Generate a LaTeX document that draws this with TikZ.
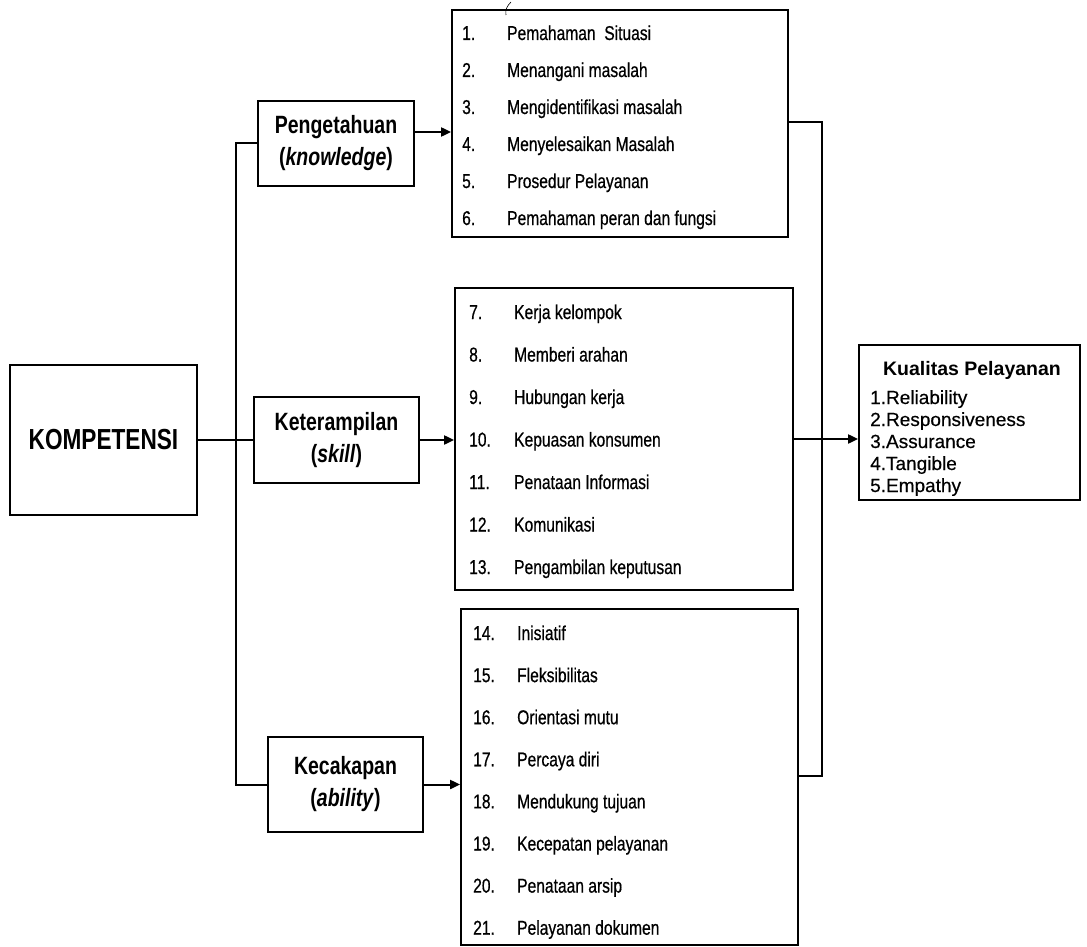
\documentclass[tikz,border=0pt]{standalone}
\usepackage{fontspec}
\setmainfont{Liberation Sans}[FakeStretch=0.78, UprightFeatures={FakeBold=0.6}]
\newfontfamily\kfont{Liberation Sans}[UprightFeatures={FakeBold=0.5}]
\usetikzlibrary{arrows.meta}
\tikzset{
  box/.style={draw, line width=1.8pt, rectangle, inner sep=0pt, align=center},
  lbl/.style={font=\bfseries\fontsize{25}{32}\selectfont},
  conn/.style={line width=2pt},
  arr/.style={line width=2pt, -{Triangle[length=10pt,width=9pt]}},
  item/.style={anchor=base west, inner sep=0pt, font=\fontsize{20}{22}\selectfont},
  kitem/.style={anchor=base west, inner sep=0pt, font=\kfont\fontsize{19}{22}\selectfont},
}
\newcommand{\boxat}[6]{% name, x1, y1, x2, y2, text
  \node[box, minimum width={#4-#2}, minimum height={#5-#3}] (#1) at ({(#2+#4)/2},{(#3+#5)/2}) {#6};}
\begin{document}
\begin{tikzpicture}[x=1pt,y=-1pt]
\useasboundingbox (0,0) rectangle (1087,947);
% boxes
\boxat{komp}{10}{365}{197}{515}{\bfseries\fontsize{29}{32}\selectfont KOMPETENSI}
\node[box, lbl, minimum width=156, minimum height=85] (peng) at (336,143.5) {Pengetahuan\\(\textit{knowledge})};
\node[box, lbl, minimum width=165, minimum height=86] (ket) at (336.5,440) {Keterampilan\\(\textit{skill})};
\node[box, lbl, minimum width=155, minimum height=95] (kec) at (345.5,784.5) {Kecakapan\\(\textit{ability})};
\boxat{listA}{452}{10}{788}{237}{}
\boxat{listB}{455}{288}{793}{590}{}
\boxat{listC}{461}{609}{798}{945}{}
\boxat{kual}{859}{345}{1080}{500}{}
% list 1
\foreach \n/\t [count=\i from 0] in {1./Pemahaman\ \ Situasi, 2./Menangani masalah, 3./Mengidentifikasi masalah, 4./Menyelesaikan Masalah, 5./Prosedur Pelayanan, 6./Pemahaman peran dan fungsi}
  \node[item] (a\i) at (462,{40+37*\i}) {\makebox[45pt][l]{\n}\t};
% list 2
\foreach \n/\t [count=\i from 0] in {7./Kerja kelompok, 8./Memberi arahan, 9./Hubungan kerja, 10./Kepuasan konsumen, 11./Penataan Informasi, 12./Komunikasi, 13./Pengambilan keputusan}
  \node[item] (b\i) at (469,{319+42.5*\i}) {\makebox[45pt][l]{\n}\t};
% list 3
\foreach \n/\t [count=\i from 0] in {14./Inisiatif, 15./Fleksibilitas, 16./Orientasi mutu, 17./Percaya diri, 18./Mendukung tujuan, 19./Kecepatan pelayanan, 20./Penataan arsip, 21./Pelayanan dokumen}
  \node[item] (c\i) at (473,{640+42.1*\i}) {\makebox[44pt][l]{\n}\t};
% kualitas
\node[anchor=base, inner sep=0pt, font=\kfont\bfseries\fontsize{19.5}{22}\selectfont] (ktitle) at (972,375) {Kualitas Pelayanan};
\foreach \t [count=\i from 0] in {1.Reliability, 2.Responsiveness, 3.Assurance, 4.Tangible, 5.Empathy}
  \node[kitem] (k\i) at (870,{404+22*\i}) {\t};
% connectors
\coordinate (lt) at (236,143.5);
\coordinate (lb) at (236,784.5);
\draw[conn] (peng.west) -- (lt) -- (lb) -- (kec.west);
\draw[conn] (komp.east) -- (ket.west);
\coordinate (pa) at (0,132);
\draw[arr] (peng.east |- pa) -- (listA.west |- pa);
\draw[arr] (ket.east) -- (ket.east -| listB.west);
\draw[arr] (kec.east) -- (kec.east -| listC.west);
\draw[arr] (listB.east) -- (listB.east -| kual.west);
\coordinate (rt) at (822,122);
\coordinate (rb) at (822,776);
\draw[conn] (listA.east |- rt) -- (rt) -- (rb) -- (listC.east |- rb);
% stray pen mark at top
\draw[line width=0.6pt] (511,2) .. controls (507,6) and (505,10) .. (506,15);
\end{tikzpicture}
\end{document}
